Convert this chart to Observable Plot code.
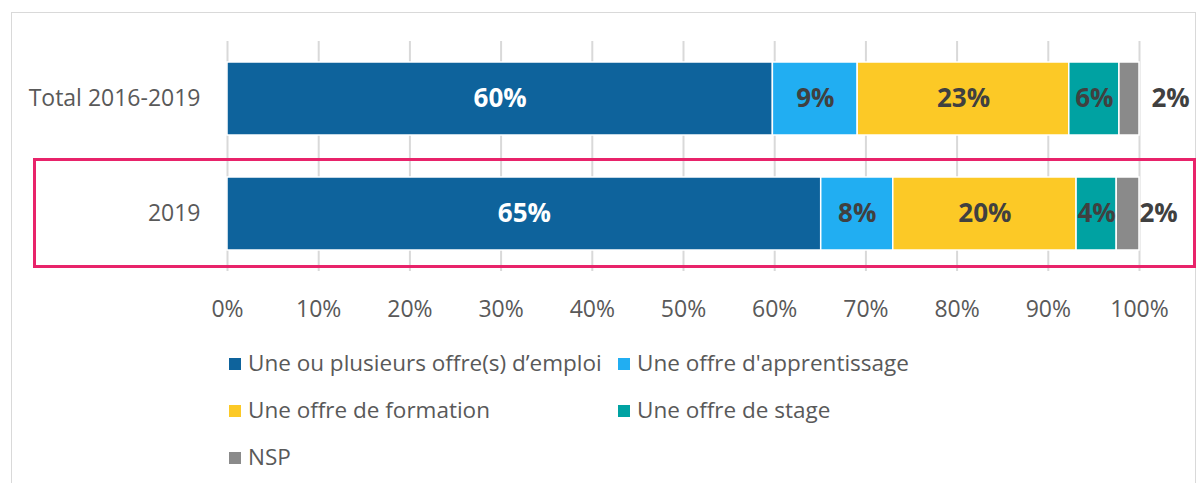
<!DOCTYPE html>
<html>
<head>
<meta charset="utf-8">
<script src="https://cdn.jsdelivr.net/npm/d3@7"></script>
<script src="https://cdn.jsdelivr.net/npm/@observablehq/plot@0.6"></script>
<style>
  html, body { margin: 0; padding: 0; background: #fff; }
  body { width: 1197px; height: 483px; position: relative; overflow: hidden; font-family: "Open Sans", sans-serif; }
  #frame { position: absolute; left: 11px; top: 12px; width: 1185px; height: 500px; border: 1.5px solid #D9D9D9; box-sizing: border-box; }
  #chart { position: absolute; left: 0; top: 0; }
  #box { position: absolute; left: 33px; top: 158px; width: 1163px; height: 110px; border: 3px solid #E8236A; box-sizing: border-box; }
  #legend { position: absolute; left: 229px; top: 350px; }
  .item { position: absolute; white-space: nowrap; font-size: 22.5px; color: #595959; line-height: 26px; }
  .sw { display: inline-block; width: 12px; height: 12px; margin-right: 7px; vertical-align: 1px; }
</style>
</head>
<body>
<div id="frame"></div>
<div id="chart"></div>
<div id="box"></div>
<div id="legend"></div>
<script>
const categories = ["Total 2016-2019", "2019"];
const series = ["Une ou plusieurs offre(s) d’emploi", "Une offre d'apprentissage", "Une offre de formation", "Une offre de stage", "NSP"];
const colors = ["#0E639C", "#21AEF2", "#FCC926", "#00A2A2", "#8A8A8A"];
const valuesTotal = [59.8, 9.3, 23.2, 5.5, 2.2];
const values2019 = [65.1, 7.9, 20.1, 4.4, 2.5];
const labelsTotal = ["60%", "9%", "23%", "6%", "2%"];
const labels2019 = ["65%", "8%", "20%", "4%", "2%"];
const ticks = [0, 10, 20, 30, 40, 50, 60, 70, 80, 90, 100];

const rows = [];
[[categories[0], valuesTotal, labelsTotal], [categories[1], values2019, labels2019]].forEach(([cat, vals, labs]) => {
  vals.forEach((v, i) => rows.push({cat, series: series[i], value: v, label: labs[i], idx: i}));
});
const inner = rows.filter(d => d.idx < 4);
const outerTop = rows.filter(d => d.idx === 4 && d.cat === categories[0]);
const outerBottom = rows.filter(d => d.idx === 4 && d.cat === categories[1]);

const labelStyle = {fill: "#404040", fontWeight: "bold", fontSize: 26};

const chart = Plot.plot({
  width: 1197,
  height: 330,
  marginLeft: 227,
  marginRight: 58,
  marginTop: 41,
  marginBottom: 59,
  style: {fontFamily: "Open Sans, sans-serif", background: "transparent"},
  x: {domain: [0, 100]},
  y: {domain: categories, paddingInner: 0.365, paddingOuter: 0.1825},
  color: {domain: series, range: colors},
  marks: [
    Plot.ruleX(ticks, {stroke: "#D9D9D9", strokeWidth: 2}),
    Plot.barX(rows, Plot.stackX({x: "value", y: "cat", fill: "series", order: series, stroke: "white", strokeWidth: 1.5})),
    Plot.text(inner, Plot.stackX({x: "value", y: "cat", z: "series", order: series, text: "label",
      fill: d => d.idx === 0 ? "white" : "#404040", fontWeight: "bold", fontSize: 26})),
    Plot.text(outerTop, {x: () => 100, y: "cat", text: "label", textAnchor: "start", dx: 12, ...labelStyle}),
    Plot.text(outerBottom, {x: () => 100, y: "cat", text: "label", textAnchor: "start", dx: 0, ...labelStyle}),
    Plot.axisX({ticks, tickFormat: d => d + "%", tickSize: 0, tickPadding: 29, fontSize: 23, color: "#595959", label: null}),
    Plot.axisY({tickSize: 0, tickPadding: 27, fontSize: 23, color: "#595959", label: null})
  ]
});
document.getElementById("chart").appendChild(chart);

const legend = document.getElementById("legend");
const pos = [[0, 0], [389, 0], [0, 47], [389, 47], [0, 94]];
series.forEach((s, i) => {
  const el = document.createElement("div");
  el.className = "item";
  el.style.left = pos[i][0] + "px";
  el.style.top = pos[i][1] + "px";
  el.innerHTML = `<span class="sw" style="background:${colors[i]}"></span>${s}`;
  legend.appendChild(el);
});
</script>
</body>
</html>
